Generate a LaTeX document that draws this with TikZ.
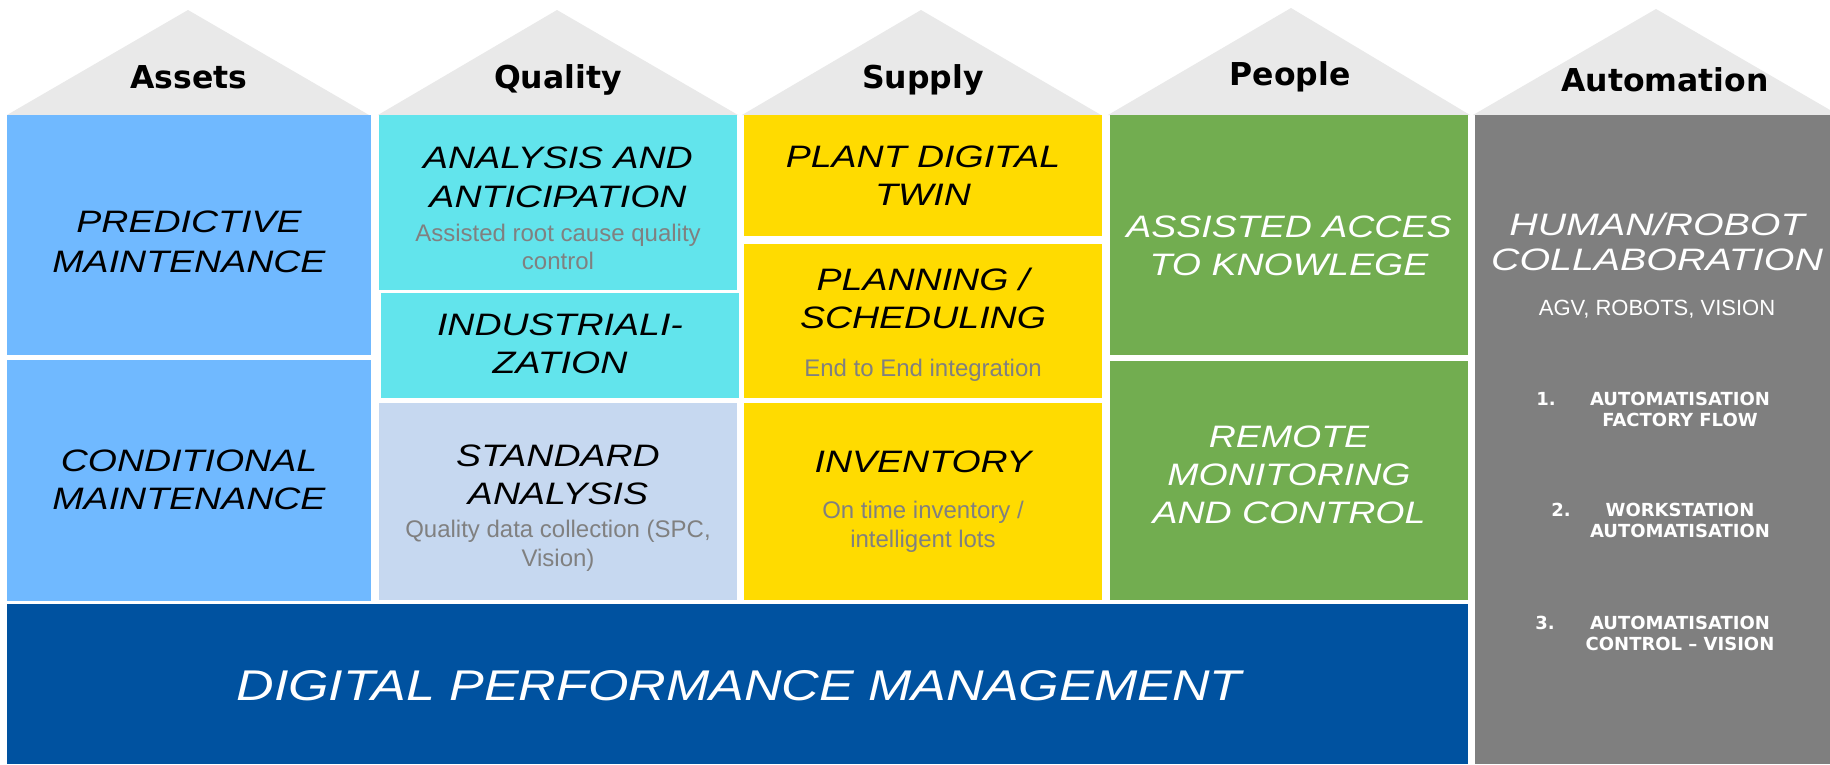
\documentclass[tikz,border=0pt]{standalone}
\usepackage{fontspec}
\setmainfont{Liberation Sans}
\newfontfamily\titlefont{Liberation Sans}[FakeStretch=1.21]
\newfontfamily\hrfont{Liberation Sans}[FakeStretch=1.27]
\newfontfamily\headfont{DejaVu Sans}
\definecolor{trigray}{RGB}{233,233,233}
\definecolor{assetblue}{RGB}{112,185,255}
\definecolor{qualcyan}{RGB}{98,228,236}
\definecolor{stdblue}{RGB}{198,216,240}
\definecolor{supyellow}{RGB}{255,219,0}
\definecolor{pplgreen}{RGB}{114,173,80}
\definecolor{autogray}{RGB}{127,127,127}
\definecolor{dpmblue}{RGB}{0,82,160}
\definecolor{subgray}{RGB}{128,128,128}
\tikzset{
  tri/.style={fill=trigray},
  hdr/.style={anchor=base, inner sep=0pt, font=\headfont\bfseries\fontsize{31.5}{36}\selectfont},
  ttl/.style={anchor=base, inner sep=0pt, font=\titlefont\itshape\fontsize{31}{38}\selectfont},
  wttl/.style={ttl, text=white},
  sub/.style={anchor=base, inner sep=0pt, text=subgray, font=\fontsize{24}{28}\selectfont},
  itm/.style={anchor=base, inner sep=0pt, text=white, font=\headfont\bfseries\fontsize{18}{21}\selectfont},
  num/.style={itm, anchor=base east},
}
\begin{document}
\begin{tikzpicture}[x=1pt,y=-1pt]
\fill[white] (0,0) rectangle (1830,764);
\useasboundingbox (0,0) rectangle (1830,764);
% roofs
\fill[tri] (7,115) -- (188,10) -- (369,115) -- cycle;
\fill[tri] (378,115) -- (557,10) -- (738,115) -- cycle;
\fill[tri] (742,115) -- (921,10) -- (1101,115) -- cycle;
\fill[tri] (1108,115) -- (1291,8) -- (1470,115) -- cycle;
\fill[tri] (1473,115) -- (1656,9) -- (1830,110) -- (1830,115) -- cycle;
% headers
\node[hdr] (hA) at (189,88) {Assets};
\node[hdr] (hQ) at (558,88) {Quality};
\node[hdr] (hS) at (923,88) {Supply};
\node[hdr] (hP) at (1290,85) {People};
\node[hdr] (hU) at (1665,91) {Automation};
% boxes
\fill[assetblue] (7,115) rectangle (371,355);
\fill[assetblue] (7,360) rectangle (371,601);
\fill[qualcyan] (379,115) rectangle (737,290);
\fill[qualcyan] (381,293) rectangle (739,398);
\fill[stdblue] (379,403) rectangle (737,600);
\fill[supyellow] (744,115) rectangle (1102,236);
\fill[supyellow] (744,244) rectangle (1102,398);
\fill[supyellow] (744,403) rectangle (1102,600);
\fill[pplgreen] (1110,115) rectangle (1468,355);
\fill[pplgreen] (1110,361) rectangle (1468,600);
\fill[dpmblue] (7,604) rectangle (1468,764);
\fill[autogray] (1475,115) rectangle (1830,764);
% Assets
\node[ttl] (a1) at (189,232) {PREDICTIVE};
\node[ttl] (a2) at (189,272) {MAINTENANCE};
\node[ttl] (a3) at (189,471) {CONDITIONAL};
\node[ttl] (a4) at (189,509) {MAINTENANCE};
% Quality
\node[ttl] (q1) at (558,168) {ANALYSIS AND};
\node[ttl] (q2) at (558,207) {ANTICIPATION};
\node[sub] (q3) at (558,241) {Assisted root cause quality};
\node[sub] (q4) at (558,269) {control};
\node[ttl] (q5) at (560,335) {INDUSTRIALI-};
\node[ttl] (q6) at (560,373) {ZATION};
\node[ttl] (q7) at (558,466) {STANDARD};
\node[ttl] (q8) at (558,504) {ANALYSIS};
\node[sub] (q9) at (558,537) {Quality data collection (SPC,};
\node[sub] (q10) at (558,566) {Vision)};
% Supply
\node[ttl] (s1) at (923,167) {PLANT DIGITAL};
\node[ttl] (s2) at (923,205) {TWIN};
\node[ttl] (s3) at (923,290) {PLANNING /};
\node[ttl] (s4) at (923,328) {SCHEDULING};
\node[sub] (s5) at (923,376) {End to End integration};
\node[ttl] (s6) at (923,472) {INVENTORY};
\node[sub] (s7) at (923,518) {On time inventory /};
\node[sub] (s8) at (923,547) {intelligent lots};
% People
\node[wttl] (p1) at (1289,237) {ASSISTED ACCES};
\node[wttl] (p2) at (1289,275) {TO KNOWLEGE};
\node[wttl] (p3) at (1289,447) {REMOTE};
\node[wttl] (p4) at (1289,485) {MONITORING};
\node[wttl] (p5) at (1289,523) {AND CONTROL};
% Automation
\node[anchor=base, inner sep=0pt, text=white, font=\hrfont\itshape\fontsize{31}{35}\selectfont] (u1) at (1657,235) {HUMAN/ROBOT};
\node[anchor=base, inner sep=0pt, text=white, font=\hrfont\itshape\fontsize{31}{35}\selectfont] (u2) at (1657,270) {COLLABORATION};
\node[anchor=base, inner sep=0pt, text=white, font=\fontsize{22}{26}\selectfont] (u3) at (1657,315) {AGV, ROBOTS, VISION};
\node[num] (n1) at (1556,405) {1.};
\node[itm] (i1) at (1680,405) {AUTOMATISATION};
\node[itm] (i2) at (1680,426) {FACTORY FLOW};
\node[num] (n2) at (1571,516) {2.};
\node[itm] (i3) at (1680,516) {WORKSTATION};
\node[itm] (i4) at (1680,537) {AUTOMATISATION};
\node[num] (n3) at (1555,629) {3.};
\node[itm] (i5) at (1680,629) {AUTOMATISATION};
\node[itm] (i6) at (1680,650) {CONTROL – VISION};
% DPM
\node[anchor=base, inner sep=0pt, text=white, font=\titlefont\itshape\fontsize{43}{50}\selectfont] (d1) at (739,700) {DIGITAL PERFORMANCE MANAGEMENT};
\end{tikzpicture}
\end{document}
